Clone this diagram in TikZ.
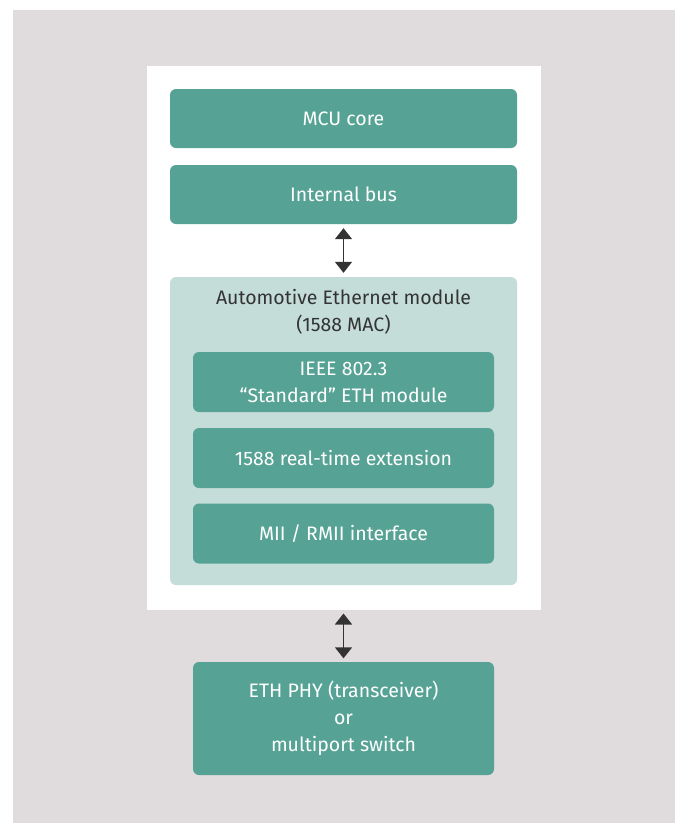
\documentclass[tikz,border=0pt]{standalone}
\usepackage{fontspec}
\setmainfont{Fira Sans}
\usetikzlibrary{positioning, arrows.meta, backgrounds}
\definecolor{dteal}{HTML}{56A395}
\definecolor{lteal}{HTML}{C4DDD9}
\definecolor{bggray}{HTML}{E0DCDD}
\definecolor{txtgray}{HTML}{333333}

\tikzset{
  block/.style={fill=dteal, rounded corners=6pt, text=white, align=center, inner sep=0pt,
    font=\fontsize{19.5}{27}\selectfont},
  bigblock/.style={block, minimum width=347pt, minimum height=59pt},
  subblock/.style={block, minimum width=301pt, minimum height=60pt},
  link/.style={{Triangle[width=17pt,length=11pt]}-{Triangle[width=17pt,length=11pt]}, line width=1.6pt, txtgray}
}

\begin{document}
\begin{tikzpicture}[x=1pt, y=-1pt]
\useasboundingbox (0,0) rectangle (680,823);

% background and white panel
\fill[bggray] (13,10) rectangle (675,823);
\fill[white] (147,66) rectangle (541,610);
\coordinate (panelbot) at (343.5,610);

\node[bigblock] (mcu) at (343.5,118.5) {MCU core};
\node[bigblock] (bus) at (343.5,194.5) {Internal bus};

% ethernet module
\node[fill=lteal, rounded corners=6pt, minimum width=347pt, minimum height=308pt, inner sep=0pt] (mod) at (343.5,431) {};
\node[align=center, text=txtgray, font=\fontsize{19.5}{27}\selectfont, inner sep=0pt] (modtitle) at (343.5,311.5) {Automotive Ethernet module\\(1588 MAC)};

\node[subblock] (ieee) at (343.5,382) {IEEE 802.3\\``Standard'' ETH module};
\node[subblock] (ext) at (343.5,458) {1588 real-time extension};
\node[subblock] (mii) at (343.5,533.5) {MII / RMII interface};

\node[subblock, minimum height=113pt] (phy) at (343.5,718.5) {ETH PHY (transceiver)\\or\\multiport switch};

\draw[link, shorten <=4pt, shorten >=4pt] (bus) -- (mod);
\draw[link, shorten <=3.5pt, shorten >=3.5pt] (panelbot) -- (phy);

\end{tikzpicture}
\end{document}
